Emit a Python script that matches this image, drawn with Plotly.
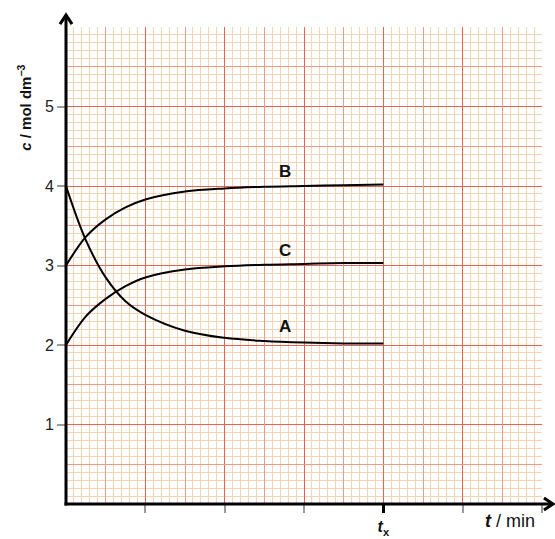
import plotly.graph_objects as go

# ---- data ----
t_vals = [0, 0.25, 0.5, 0.75, 1, 1.5, 2, 2.5, 3, 3.5, 4]
conc_A = [4.0, 3.32, 2.85, 2.55, 2.38, 2.18, 2.09, 2.05, 2.03, 2.02, 2.02]
conc_B = [3.0, 3.36, 3.58, 3.73, 3.83, 3.93, 3.97, 3.99, 4.00, 4.01, 4.02]
conc_C = [2.0, 2.36, 2.58, 2.74, 2.85, 2.95, 2.99, 3.01, 3.02, 3.03, 3.03]
series_names = ["A", "B", "C"]
label_t = [2.76, 2.76, 2.76]
label_c = [2.23, 4.18, 3.19]

y_tick_vals = [1, 2, 3, 4, 5]
y_tick_text = ["1", "2", "3", "4", "5"]
x_tick_vals = [1, 2, 3, 4, 5, 6]
half_vals = [0.5, 1.5, 2.5, 3.5, 4.5, 5.5]
tx_val = [4]
tx_text = ["<b><i>t</i><sub>x</sub></b>"]

MAJOR = "#e8624f"
MEDIUM = "#ee9a86"
MINOR = "#f4d4b6"
TICKGRAY = "#9a9a9a"

fig = go.Figure()
for name, vals in zip(series_names, [conc_A, conc_B, conc_C]):
    fig.add_trace(go.Scatter(x=t_vals, y=vals, mode="lines", name=name,
                             line=dict(color="black", width=2, shape="spline"),
                             showlegend=False, hoverinfo="skip"))
# helper (invisible) traces so the overlay axes are drawn
fig.add_trace(go.Scatter(x=[None], y=[None], xaxis="x2", yaxis="y2", showlegend=False,
                         hoverinfo="skip"))
fig.add_trace(go.Scatter(x=[None], y=[None], xaxis="x3", yaxis="y", showlegend=False,
                         hoverinfo="skip"))

for name, tx, cy in zip(series_names, label_t, label_c):
    fig.add_annotation(x=tx, y=cy, text=f"<b>{name}</b>", showarrow=False,
                       font=dict(family="Liberation Sans", size=17, color="#111"))

# axis lines (paper coordinates so they can run past the grid) with chevron heads
axis_style = dict(color="black", width=3)
fig.add_shape(type="line", xref="paper", yref="paper", x0=0, x1=0, y0=-0.003, y1=1.024,
              line=axis_style, layer="above")
fig.add_shape(type="line", xref="paper", yref="paper", x0=-0.003, x1=1.022, y0=0, y1=0,
              line=axis_style, layer="above")
fig.add_shape(type="path", xref="paper", yref="paper", xsizemode="pixel", ysizemode="pixel",
              xanchor=0, yanchor=1.025, path="M-6,-9 L0,0 L6,-9",
              line=axis_style, layer="above")
fig.add_shape(type="path", xref="paper", yref="paper", xsizemode="pixel", ysizemode="pixel",
              xanchor=1.023, yanchor=0, path="M-9,6 L0,0 L-9,-6",
              line=axis_style, layer="above")

fig.add_annotation(x=-0.089, y=0.83, xref="paper", yref="paper", textangle=-90,
                   xanchor="center", yanchor="middle",
                   text="<b><i>c</i> / mol dm<sup>−3</sup></b>", showarrow=False,
                   font=dict(family="Liberation Sans", size=15, color="#111"))
fig.add_annotation(x=0.933, y=-0.036, xref="paper", yref="paper",
                   xanchor="center", yanchor="middle",
                   text="<b><i>t</i></b> / min", showarrow=False,
                   font=dict(family="Liberation Sans", size=18, color="#111"))

common_minor = dict(dtick=0.1, showgrid=True, gridcolor=MINOR, gridwidth=1, ticks="")

fig.update_layout(
    width=555, height=539,
    margin=dict(l=66, r=13, t=27, b=35),
    paper_bgcolor="white", plot_bgcolor="white",
    xaxis=dict(range=[0, 6], tickmode="array", tickvals=x_tick_vals,
               ticktext=[" "] * len(x_tick_vals), ticks="outside", ticklen=8,
               tickwidth=2, tickcolor=TICKGRAY, showgrid=True, gridcolor=MAJOR,
               gridwidth=1.2, zeroline=False, showline=False, minor=common_minor,
               automargin=False, fixedrange=True),
    xaxis2=dict(range=[0, 6], overlaying="x", anchor="y2", tickmode="array",
                tickvals=half_vals, showticklabels=False, ticks="",
                showgrid=True, gridcolor=MEDIUM, gridwidth=1, zeroline=False,
                showline=False, automargin=False),
    xaxis3=dict(range=[0, 6], overlaying="x", anchor="y", side="bottom",
                tickmode="array", tickvals=tx_val, ticktext=tx_text,
                ticks="outside", ticklen=8, tickwidth=3, tickcolor="black",
                showgrid=False, zeroline=False, showline=False, automargin=False,
                tickfont=dict(family="Liberation Sans", size=16, color="#111")),
    yaxis=dict(range=[0, 6], tickmode="array", tickvals=y_tick_vals,
               ticktext=y_tick_text, ticks="outside", ticklen=8, tickwidth=2,
               tickcolor=TICKGRAY, showgrid=True, gridcolor=MAJOR, gridwidth=1.2,
               zeroline=False, showline=False, minor=common_minor, automargin=False,
               tickfont=dict(family="Liberation Sans", size=16, color="#222")),
    yaxis2=dict(range=[0, 6], overlaying="y", anchor="x2", tickmode="array",
                tickvals=half_vals, showticklabels=False, ticks="",
                showgrid=True, gridcolor=MEDIUM, gridwidth=1, zeroline=False,
                showline=False, automargin=False),
)

# remove the default page margin so the figure fills the window exactly
fig.write_html("out.html", config={"displayModeBar": False},
               post_script="document.body.style.margin='0';document.body.style.overflow='hidden';")
